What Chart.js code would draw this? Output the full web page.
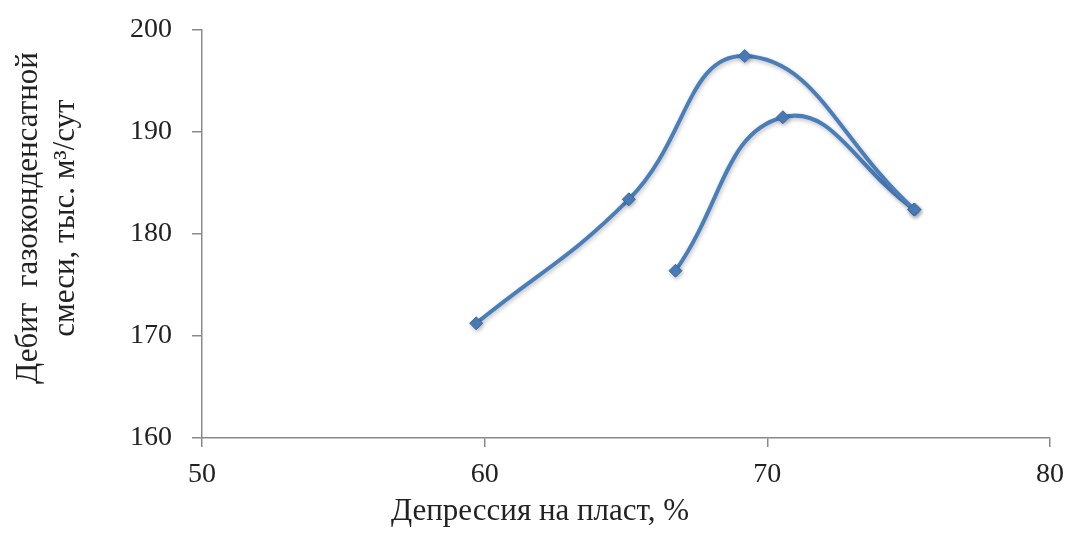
<!DOCTYPE html>
<html>
<head>
<meta charset="utf-8">
<script src="https://cdn.jsdelivr.net/npm/chart.js@4/dist/chart.umd.min.js"></script>
<style>
  html, body { margin: 0; padding: 0; background: #fff; }
  #wrap { width: 1070px; height: 535px; }
</style>
</head>
<body>
<div id="wrap"><canvas id="myChart" width="1070" height="535"></canvas></div>
<script>
(function () {
  'use strict'

  // values
  var depressionA = [59.7, 65.1, 69.2, 75.2]
  var debitA = [171.25, 183.4, 197.45, 182.4]
  var depressionB = [66.75, 70.55, 75.2]
  var debitB = [176.4, 191.45, 182.4]

  var xTicks = [50, 60, 70, 80]
  var yTicks = [160, 170, 180, 190, 200]

  var xTitle = 'Депрессия на пласт, %'
  var yTitle = ['Дебит  газоконденсатной', 'смеси, тыс. м³/сут']

  var blue = '#4a7ebb'
  var axisGray = '#8a8a8a'
  var font = '"Liberation Serif", "Times New Roman", serif'

  function points(xs, ys) {
    return xs.map(function (x, i) { return { x: x, y: ys[i] } })
  }

  // axis titles placed like in the original figure
  var titles = {
    id: 'titles',
    afterDraw: function (chart) {
      var c = chart.ctx
      c.save()
      c.fillStyle = '#222'
      c.font = '31px ' + font
      c.textAlign = 'center'
      c.textBaseline = 'alphabetic'
      c.fillText(xTitle, 540, 520)
      c.translate(0, 218)
      c.rotate(-Math.PI / 2)
      c.textBaseline = 'middle'
      c.fillText(yTitle[0], 0, 29)
      c.fillText(yTitle[1], 0, 66)
      c.restore()
    }
  }

  var shadow = {
    id: 'shadow',
    beforeDatasetsDraw: function (chart) {
      var c = chart.ctx
      c.save()
      c.shadowColor = 'rgba(0,0,0,0.25)'
      c.shadowBlur = 4
      c.shadowOffsetX = 1
      c.shadowOffsetY = 2
    },
    afterDatasetsDraw: function (chart) {
      chart.ctx.restore()
    }
  }

  var ctx = document.getElementById('myChart')
  const config = {
    type: 'line',
    data: {
      datasets: [{
          label: 'A',
          data: points(depressionA, debitA),
          tension: 0.45,
          borderColor: blue,
          borderWidth: 4,
          backgroundColor: blue,
          pointStyle: 'rectRot',
          pointRadius: 6.5,
          pointBackgroundColor: blue,
          pointBorderColor: '#3a6aa5',
          pointBorderWidth: 1
      }, {
          label: 'B',
          data: points(depressionB, debitB),
          tension: 0.45,
          borderColor: blue,
          borderWidth: 4,
          backgroundColor: blue,
          pointStyle: 'rectRot',
          pointRadius: 6.5,
          pointBackgroundColor: blue,
          pointBorderColor: '#3a6aa5',
          pointBorderWidth: 1
      }]
    },
    options: {
      responsive: false,
      animation: false,
      clip: false,
      layout: { padding: { left: 0, top: 30, right: 20, bottom: 0 } },
      scales: {
        x: {
          type: 'linear',
          min: xTicks[0],
          max: xTicks[xTicks.length - 1],
          afterBuildTicks: function (scale) {
            scale.ticks = xTicks.map(function (v) { return { value: v } })
          },
          afterFit: function (scale) {
            scale.height = 97
            scale.paddingLeft = 0
            scale.paddingRight = 0
          },
          border: { color: axisGray, width: 1.5 },
          grid: { drawOnChartArea: false, color: axisGray, tickLength: 9, lineWidth: 1.5 },
          ticks: { color: '#222', font: { family: font, size: 28 }, padding: 11, maxRotation: 0 }
        },
        y: {
          type: 'linear',
          min: yTicks[0],
          max: yTicks[yTicks.length - 1],
          afterBuildTicks: function (scale) {
            scale.ticks = yTicks.map(function (v) { return { value: v } })
          },
          afterFit: function (scale) {
            scale.width = 202
            scale.paddingTop = 0
            scale.paddingBottom = 0
          },
          border: { color: axisGray, width: 1.5 },
          grid: { drawOnChartArea: false, color: axisGray, tickLength: 10, lineWidth: 1.5 },
          ticks: { color: '#222', font: { family: font, size: 28 }, padding: 20 }
        }
      },
      plugins: {
        legend: { display: false },
        tooltip: { enabled: false }
      }
    },
    plugins: [shadow, titles]
  }
  var lineChart = new Chart(ctx, config)
}) ()
</script>
</body>
</html>
